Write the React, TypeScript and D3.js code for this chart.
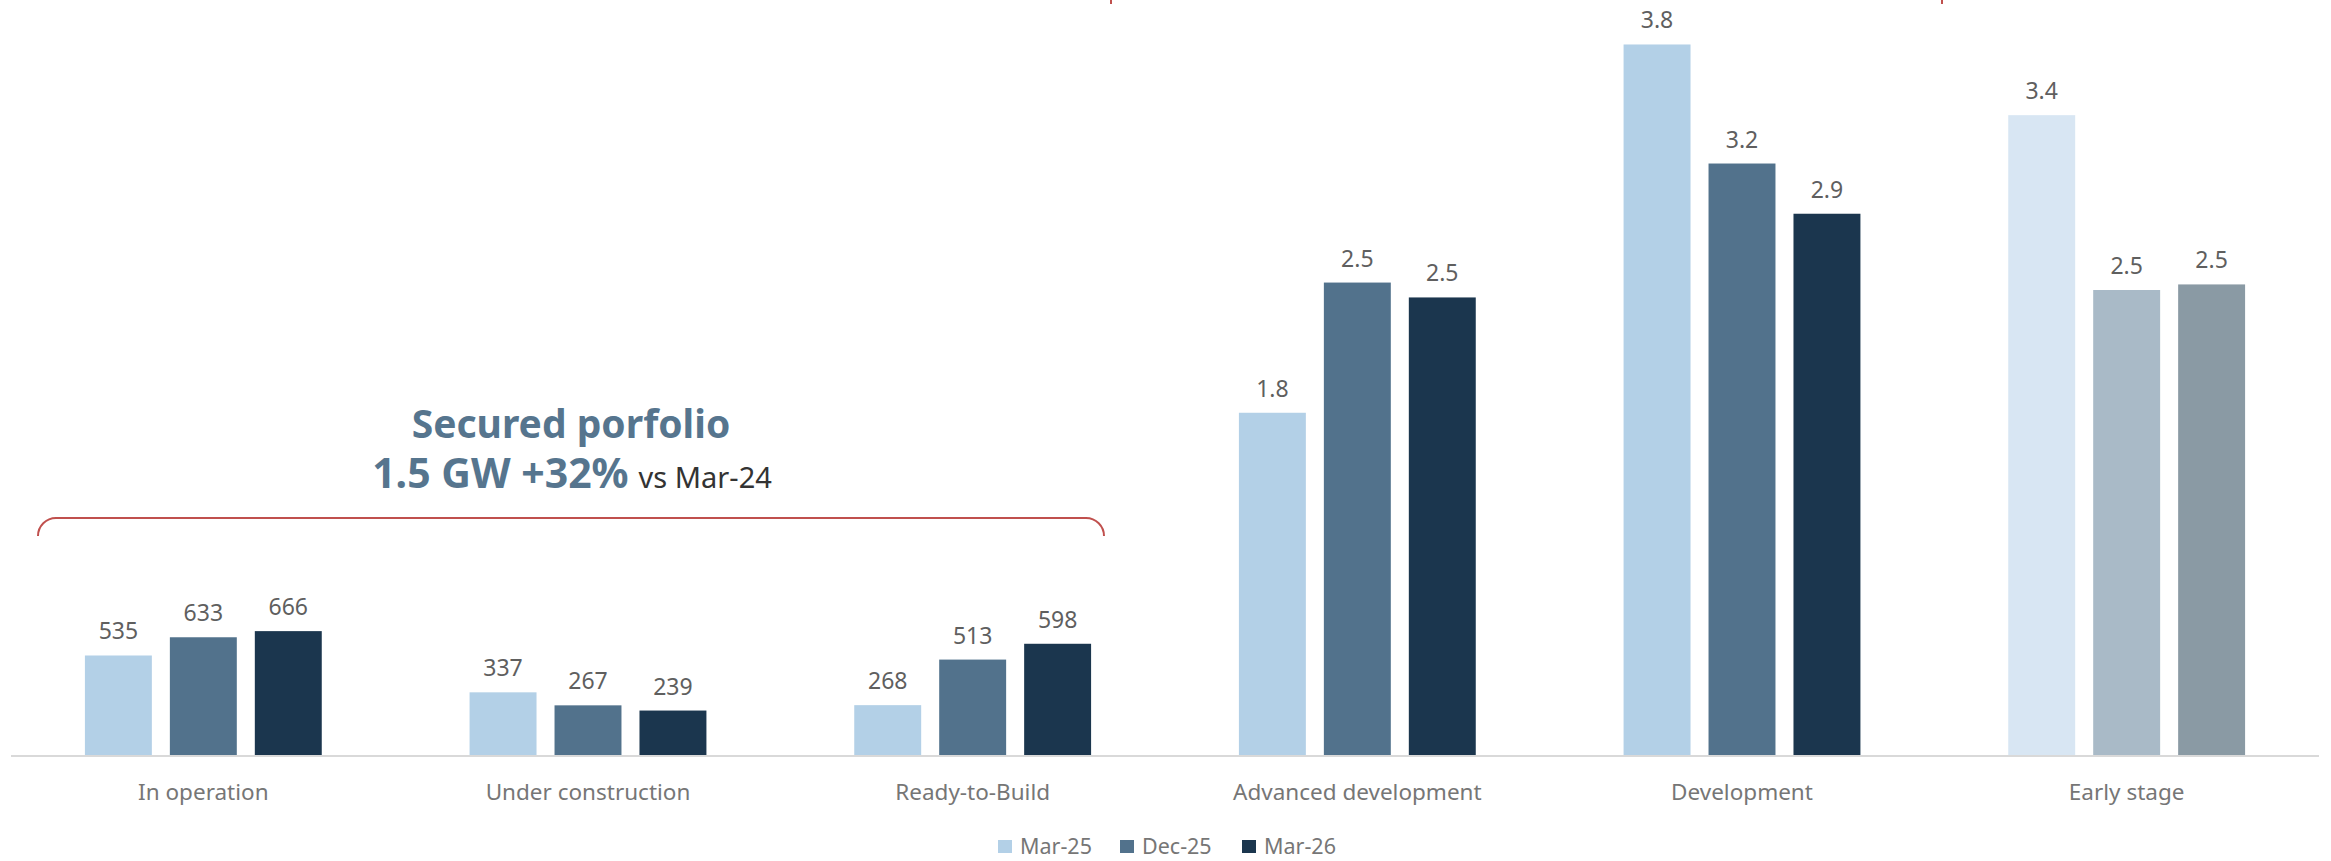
import React from "react";
import * as d3 from "d3";

// ---- data (MW) ----
const categories: string[] = [
  "In operation",
  "Under construction",
  "Ready-to-Build",
  "Advanced development",
  "Development",
  "Early stage",
];
// labels shown in MW for the first three groups, GW for the rest
const categoryUnits: string[] = ["MW", "MW", "MW", "GW", "GW", "GW"];

const seriesNames: string[] = ["Mar-25", "Dec-25", "Mar-26"];
const mar25: number[] = [535, 337, 268, 1840, 3820, 3440];
const dec25: number[] = [633, 267, 513, 2540, 3180, 2500];
const mar26: number[] = [666, 239, 598, 2460, 2910, 2530];

const W = 2331;
const H = 861;
const FONT = "'Segoe UI', 'Noto Sans', sans-serif";

const colors: string[] = ["#B3D0E7", "#52728C", "#1B364E"];
const earlyColors: string[] = ["#D8E6F3", "#A9BAC7", "#8A9AA4"];

document.body.style.margin = "0";

export default function App() {
  const series: number[][] = [mar25, dec25, mar26];

  const x = d3.scaleBand<string>().domain(categories).range([11, 2319]).padding(0);
  const xSub = d3
    .scaleBand<string>()
    .domain(seriesNames)
    .range([0, x.bandwidth()])
    .paddingInner(0.212)
    .paddingOuter(0.87);
  const y = d3.scaleLinear().domain([0, 4000]).range([755, 11]);

  const fmt = (v: number, unit: string): string =>
    unit === "GW" ? (v / 1000).toFixed(1) : d3.format("d")(v);

  return (
    <svg width={W} height={H} style={{ display: "block", background: "#fff" }} fontFamily={FONT}>
      {/* bars + value labels */}
      {categories.map((cat, ci) => (
        <g key={cat} transform={`translate(${x(cat)},0)`}>
          {seriesNames.map((s, si) => {
            const v = series[si][ci];
            const bx = xSub(s)!;
            const bw = xSub.bandwidth();
            const fill = cat === "Early stage" ? earlyColors[si] : colors[si];
            return (
              <g key={s}>
                <rect x={bx} y={y(v)} width={bw} height={y(0) - y(v)} fill={fill} />
                <text
                  x={bx + bw / 2}
                  y={y(v) - 16}
                  textAnchor="middle"
                  fontSize={23}
                  fill="#5F5F5F"
                >
                  {fmt(v, categoryUnits[ci])}
                </text>
              </g>
            );
          })}
          <text
            x={x.bandwidth() / 2}
            y={800}
            textAnchor="middle"
            fontSize={22.5}
            fill="#767676"
          >
            {cat}
          </text>
        </g>
      ))}

      {/* baseline */}
      <line x1={11} x2={2319} y1={756} y2={756} stroke="#D9D9D9" strokeWidth={2} />

      {/* secured portfolio annotation */}
      <text x={571} y={438} textAnchor="middle" fontSize={39} fontWeight={700} fill="#56758E">
        Secured porfolio
      </text>
      <text x={572} y={488} textAnchor="middle" fontSize={41} fontWeight={700} fill="#56758E">
        1.5 GW +32%
        <tspan fontSize={29} fontWeight={400} fill="#333333" dx={10}>
          vs Mar-24
        </tspan>
      </text>
      <path
        d="M 38 536 A 18 18 0 0 1 56 518 H 1086 A 18 18 0 0 1 1104 536"
        fill="none"
        stroke="#C0504D"
        strokeWidth={2}
      />
      {/* ends of a bracket cut off at the top */}
      <line x1={1111} x2={1111} y1={0} y2={4} stroke="#C0504D" strokeWidth={2} />
      <line x1={1942} x2={1942} y1={0} y2={4} stroke="#C0504D" strokeWidth={2} />

      {/* legend */}
      {seriesNames.map((s, i) => (
        <g key={s} transform={`translate(${998 + i * 122},840)`}>
          <rect x={0} y={0} width={14} height={13} fill={colors[i]} />
          <text x={22} y={14} fontSize={21.5} fill="#767676">
            {s}
          </text>
        </g>
      ))}
    </svg>
  );
}
